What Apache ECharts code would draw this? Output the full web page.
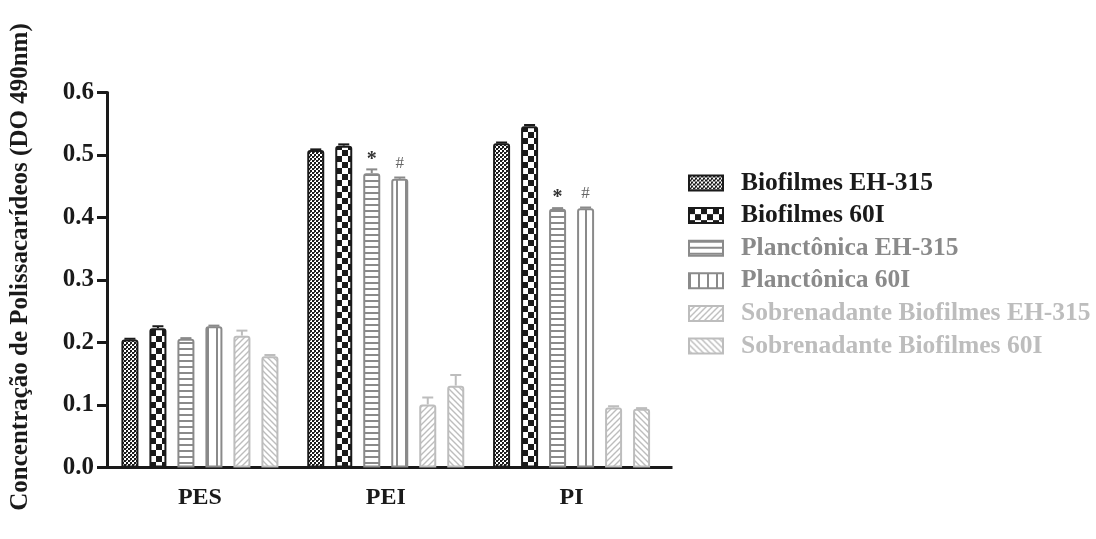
<!DOCTYPE html>
<html>
<head>
<meta charset="utf-8">
<script src="https://cdn.jsdelivr.net/npm/echarts@6/dist/echarts.min.js"></script>
<style>
  html, body { margin: 0; padding: 0; background: #fff; }
  #chart { width: 1096px; height: 539px; }
</style>
</head>
<body>
<div id="chart"></div>
<script>
// Groups on the x axis
const categories = ['PES', 'PEI', 'PI'];

// Series names
const seriesNames = [
  'Biofilmes EH-315',
  'Biofilmes 60I',
  'Planctônica EH-315',
  'Planctônica 60I',
  'Sobrenadante Biofilmes EH-315',
  'Sobrenadante Biofilmes 60I'
];

// Mean optical density per group (PES, PEI, PI)
const biofilmesEH315 = [0.205, 0.508, 0.519];
const biofilmes60I = [0.223, 0.515, 0.546];
const planctonicaEH315 = [0.206, 0.471, 0.414];
const planctonica60I = [0.226, 0.462, 0.415];
const sobrenadanteEH315 = [0.211, 0.101, 0.096];
const sobrenadante60I = [0.178, 0.131, 0.094];

// Error (upper whisker) per group
const errBiofilmesEH315 = [0.001, 0.001, 0.001];
const errBiofilmes60I = [0.003, 0.002, 0.002];
const errPlanctonicaEH315 = [0.001, 0.006, 0.001];
const errPlanctonica60I = [0.001, 0.002, 0.001];
const errSobrenadanteEH315 = [0.008, 0.011, 0.002];
const errSobrenadante60I = [0.002, 0.017, 0.001];

// Significance marks above bars
const marksPlanctonicaEH315 = ['', '*', '*'];
const marksPlanctonica60I = ['', '#', '#'];

// Y axis ticks
const yMin = 0, yMax = 0.6, yStep = 0.1;

const values = [biofilmesEH315, biofilmes60I, planctonicaEH315, planctonica60I, sobrenadanteEH315, sobrenadante60I];
const errors = [errBiofilmesEH315, errBiofilmes60I, errPlanctonicaEH315, errPlanctonica60I, errSobrenadanteEH315, errSobrenadante60I];
const marks = [null, null, marksPlanctonicaEH315, marksPlanctonica60I, null, null];

const DARK = '#1a1a1a', MID = '#8a8a8a', LIGHT = '#bdbdbd';
const strokeColors = [DARK, DARK, MID, MID, LIGHT, LIGHT];
const textColors = [DARK, DARK, MID, MID, LIGHT, LIGHT];

// --- fill patterns -------------------------------------------------------
function makeCanvas(w, h, draw) {
  const c = document.createElement('canvas');
  c.width = w; c.height = h;
  const ctx = c.getContext('2d');
  ctx.fillStyle = '#fff';
  ctx.fillRect(0, 0, w, h);
  draw(ctx, w, h);
  return c;
}
const patterns = [
  // fine checkerboard
  makeCanvas(4, 4, (ctx) => {
    ctx.fillStyle = DARK;
    ctx.fillRect(0, 0, 2, 2);
    ctx.fillRect(2, 2, 2, 2);
    ctx.fillStyle = '#555';
    ctx.fillRect(2, 0, 1, 1);
  }),
  // coarse checkerboard
  makeCanvas(12, 12, (ctx) => {
    ctx.fillStyle = DARK;
    ctx.fillRect(0, 0, 6, 6);
    ctx.fillRect(6, 6, 6, 6);
  }),
  // horizontal lines
  makeCanvas(6, 6, (ctx) => {
    ctx.fillStyle = MID;
    ctx.fillRect(0, 0, 6, 2);
  }),
  // vertical lines
  makeCanvas(9, 6, (ctx) => {
    ctx.fillStyle = MID;
    ctx.fillRect(0, 0, 2, 6);
  }),
  // forward diagonal hatch
  makeCanvas(6, 6, (ctx) => {
    ctx.strokeStyle = LIGHT;
    ctx.lineWidth = 1.4;
    ctx.beginPath();
    ctx.moveTo(-1, 7); ctx.lineTo(7, -1);
    ctx.moveTo(-1, 1); ctx.lineTo(1, -1);
    ctx.moveTo(5, 7); ctx.lineTo(7, 5);
    ctx.stroke();
  }),
  // backward diagonal hatch
  makeCanvas(6, 6, (ctx) => {
    ctx.strokeStyle = LIGHT;
    ctx.lineWidth = 1.4;
    ctx.beginPath();
    ctx.moveTo(-1, -1); ctx.lineTo(7, 7);
    ctx.moveTo(5, -1); ctx.lineTo(7, 1);
    ctx.moveTo(-1, 5); ctx.lineTo(1, 7);
    ctx.stroke();
  })
];

const BAR_W = 17;
const BAR_GAP = 11;
const FONT = '"Liberation Serif", "Times New Roman", serif';
const GRID = { left: 105, top: 92.5, right: 431.5, bottom: 71.5 };

const barSeries = seriesNames.map((name, i) => ({
  name: name,
  type: 'bar',
  data: values[i],
  barWidth: BAR_W,
  barGap: (BAR_GAP / BAR_W * 100) + '%',
  itemStyle: {
    color: { image: patterns[i], repeat: 'repeat' },
    borderColor: strokeColors[i],
    borderWidth: 2,
    borderRadius: [2, 2, 0, 0]
  },
  emphasis: { disabled: true }
}));

// Error whiskers + significance marks
const errData = [];
values.forEach((arr, s) => {
  arr.forEach((v, c) => {
    errData.push([c, v, errors[s][c], s]);
  });
});

const errSeries = {
  type: 'custom',
  data: errData,
  z: 5,
  silent: true,
  renderItem: function (params, api) {
    const c = api.value(0), v = api.value(1), e = api.value(2), s = api.value(3);
    const mark = marks[s] ? marks[s][c] : '';
    const n = seriesNames.length;
    const offset = (s - (n - 1) / 2) * (BAR_W + BAR_GAP);
    const base = api.coord([c, v]);
    const top = api.coord([c, v + e]);
    const x = base[0] + offset;
    const color = strokeColors[s];
    const children = [
      { type: 'line', shape: { x1: x, y1: base[1], x2: x, y2: top[1] }, style: { stroke: color, lineWidth: 2 } },
      { type: 'line', shape: { x1: x - 5.5, y1: top[1], x2: x + 5.5, y2: top[1] }, style: { stroke: color, lineWidth: 2 } }
    ];
    if (mark) {
      const isStar = mark === '*';
      children.push({
        type: 'text',
        style: {
          text: mark,
          x: x,
          y: top[1] - (isStar ? 0 : 5),
          align: 'center',
          verticalAlign: 'bottom',
          fill: isStar ? '#333' : '#666',
          font: (isStar ? 'bold 20px ' : '17px ') + FONT
        }
      });
    }
    return { type: 'group', children: children };
  }
};

const chart = echarts.init(document.getElementById('chart'), null, { renderer: 'canvas' });
chart.setOption({
  animation: false,
  backgroundColor: '#fff',
  grid: Object.assign({ containLabel: false }, GRID),
  legend: {
    orient: 'vertical',
    left: 683,
    top: 165,
    itemWidth: 34,
    itemHeight: 15,
    itemGap: 6.6,
    selectedMode: false,
    data: seriesNames.map((n, i) => ({
      name: n,
      icon: 'rect',
      textStyle: { color: textColors[i] }
    })),
    textStyle: { fontFamily: FONT, fontWeight: 'bold', fontSize: 25.5, lineHeight: 24, padding: [0, 0, 0, 13] }
  },
  xAxis: {
    type: 'category',
    data: categories,
    axisLine: { lineStyle: { color: DARK, width: 3 } },
    axisTick: { alignWithLabel: true, length: 8, lineStyle: { color: DARK, width: 3 } },
    axisLabel: { color: DARK, fontFamily: FONT, fontWeight: 'bold', fontSize: 24, margin: 18 }
  },
  yAxis: {
    type: 'value',
    min: yMin,
    max: yMax,
    interval: yStep,
    name: 'Concentração de Polissacarídeos (DO 490nm)',
    nameLocation: 'middle',
    nameGap: 74,
    nameTextStyle: { color: DARK, fontFamily: FONT, fontWeight: 'bold', fontSize: 25, padding: [0, 0, 0, 26] },
    splitLine: { show: false },
    axisLine: { show: true, lineStyle: { color: DARK, width: 3 } },
    axisTick: { show: true, length: 10, lineStyle: { color: DARK, width: 3 } },
    axisLabel: {
      color: DARK, fontFamily: FONT, fontWeight: 'bold', fontSize: 25, margin: 13,
      formatter: (v) => v.toFixed(1)
    }
  },
  series: barSeries.concat([errSeries])
});

// The x axis line runs a little past the last group
const yZero = chart.convertToPixel({ yAxisIndex: 0 }, 0);
const xEnd = 1096 - GRID.right;
chart.setOption({
  graphic: [{
    type: 'line',
    silent: true,
    shape: { x1: xEnd - 1, y1: yZero, x2: xEnd + 8, y2: yZero },
    style: { stroke: DARK, lineWidth: 3 }
  }]
});
</script>
</body>
</html>
